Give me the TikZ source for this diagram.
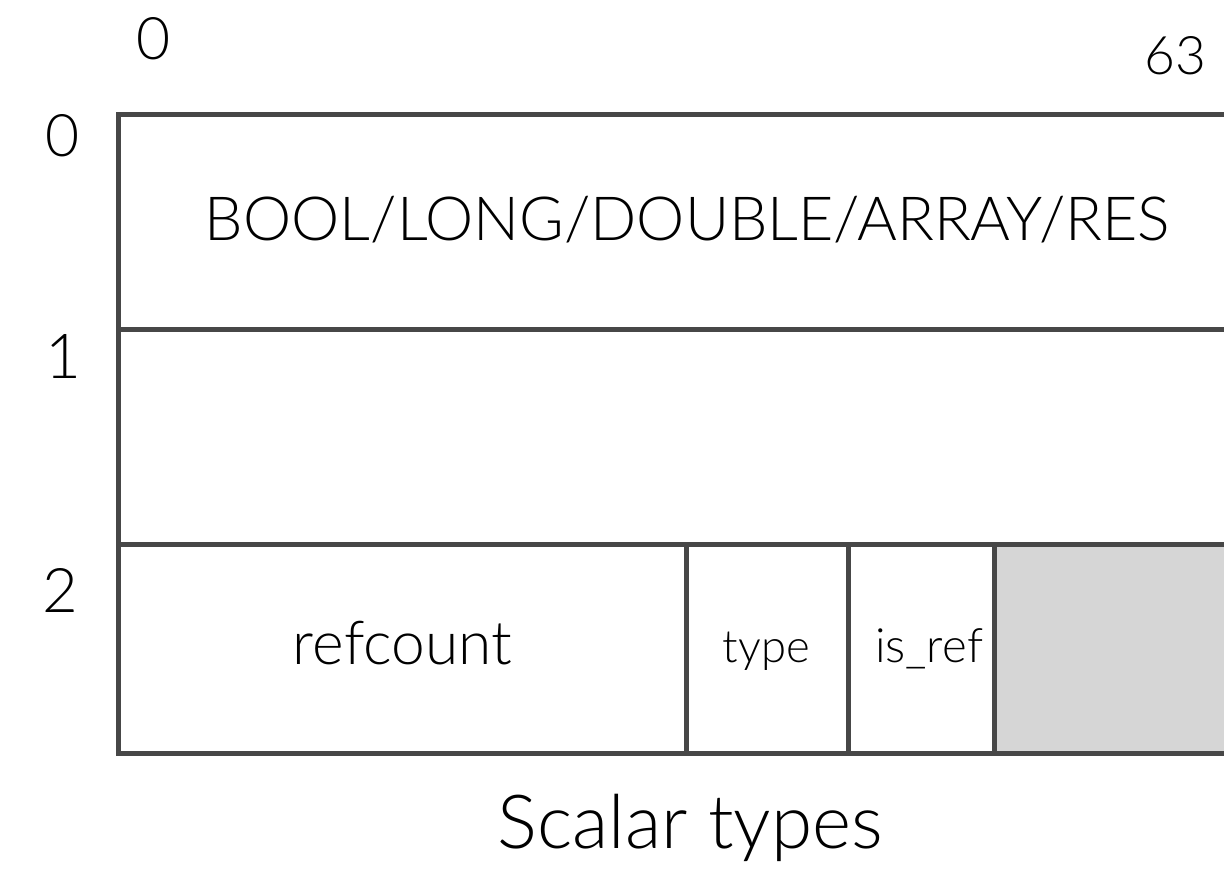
\documentclass[tikz,border=0pt]{standalone}
\usepackage{fontspec}
\setmainfont{Lato}[UprightFont=* Light]
\usepackage{graphicx}
\definecolor{linec}{HTML}{474747}
\definecolor{cellgray}{HTML}{D6D6D6}
\newcommand{\fitw}[2]{\resizebox{#1pt}{!}{#2}}
\newcommand{\fith}[2]{\resizebox{!}{#1pt}{#2}}
\tikzset{
  grid/.style={draw=linec, line width=5pt},
  lbl/.style={inner sep=0pt, outer sep=0pt, anchor=base, text=black}
}
\begin{document}
\begin{tikzpicture}[x=1pt,y=-1pt]
\useasboundingbox (0,0) rectangle (1224,869);
\clip (0,0) rectangle (1224,869);
% gray cell
\fill[cellgray] (994,544) rectangle (1235,753);
% grid lines
\draw[grid] (1235,115) -- (118,115) -- (118,753) -- (1235,753);
\draw[grid] (118,329) -- (1235,329);
\draw[grid] (118,544) -- (1235,544);
\draw[grid] (686,544) -- (686,753);
\draw[grid] (848,544) -- (848,753);
\draw[grid] (994,544) -- (994,753);
% column labels
\node[lbl] (c0) at (153.5,60) {\fith{42}{0}};
\node[lbl] (c63) at (1175.5,75) {\fith{38}{63}};
% row labels
\node[lbl] (r0) at (62.5,157) {\fith{42}{0}};
\node[lbl] (r1) at (63,378) {\fith{44}{1}};
\node[lbl] (r2) at (60,612) {\fith{44}{2}};
% cell texts
\node[lbl] (word0) at (687.5,241) {\fitw{965}{BOOL/LONG/DOUBLE/ARRAY/RES}};
\node[lbl] (refcount) at (402.5,664) {\fitw{219}{refcount}};
\node[lbl] (type) at (766.5,662) {\fitw{87}{type}};
\node[lbl] (isref) at (929,662) {\fitw{108}{is\_ref}};
% caption
\node[lbl] (caption) at (690.5,848) {\fitw{385}{Scalar types}};
\end{tikzpicture}
\end{document}
